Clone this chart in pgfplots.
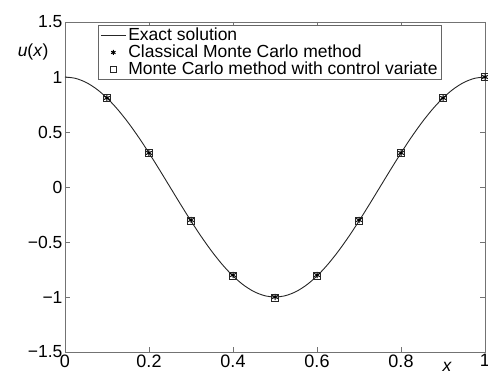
\documentclass[border=0pt]{standalone}
\usepackage{pgfplots}
\pgfplotsset{compat=1.18}
\usepackage{fontspec}
\setmainfont{Liberation Sans}
\pgfplotsset{
  leglineimg/.style={legend image code/.code={\draw[##1] (0pt,0pt) -- (25pt,0pt);}},
  legmarkimg/.style={legend image code/.code={\draw[##1, mark size=#1] plot coordinates {(12.5pt,0pt)};}},
}
\begin{document}
\fontsize{17.5}{19}\selectfont
\begin{tikzpicture}
\path[use as bounding box] (-65pt,-20pt) rectangle (423pt,352pt);
\begin{axis}[
  at={(0,0)}, anchor=south west,
  scale only axis,
  width=420pt, height=330pt,
  xmin=0, xmax=1, ymin=-1.5, ymax=1.5,
  xtick={0,0.2,0.4,0.6,0.8,1},
  xticklabels={0,0.2,0.4,0.6,0.8,1},
  ytick={-1.5,-1,-0.5,0,0.5,1,1.5},
  yticklabels={−1.5,−1,−0.5,0,0.5,1,1.5},
  tick align=inside,
  major tick length=5pt,
  axis line style={black!55, line width=0.8pt},
  every tick/.style={black!55, line width=0.7pt},
  xticklabel style={yshift=3.5pt, font=\fontsize{18}{19}\selectfont},
  yticklabel style={xshift=3.5pt, font=\fontsize{17.5}{19}\selectfont},
  xlabel={\textit{x}},
  xlabel style={at={(axis description cs:0.91,0)}, anchor=north, yshift=-4pt, font=\fontsize{17.5}{19}\selectfont},
  ylabel={\textit{u}(\textit{x})},
  ylabel style={at={(axis description cs:-0.076,0.909)}, anchor=center, rotate=-90, font=\fontsize{17.5}{19}\selectfont},
  legend style={at={(33pt,327pt)}, anchor=north west,
    draw=black!60, line width=0.8pt, font=\fontsize{17.5}{18}\selectfont,
    inner xsep=2pt, inner ysep=0.5pt, row sep=-2.4pt, cells={anchor=west},
    /tikz/every even column/.append style={column sep=2pt}},
  legend cell align=left,
]
\addplot[black!85, line width=0.9pt, smooth, leglineimg] coordinates {
(0,1) (0.025,0.98769) (0.05,0.95106) (0.075,0.89101) (0.1,0.80902)
(0.125,0.70711) (0.15,0.58779) (0.175,0.45399) (0.2,0.30902) (0.225,0.15643)
(0.25,0) (0.275,-0.15643) (0.3,-0.30902) (0.325,-0.45399) (0.35,-0.58779)
(0.375,-0.70711) (0.4,-0.80902) (0.425,-0.89101) (0.45,-0.95106) (0.475,-0.98769)
(0.5,-1) (0.525,-0.98769) (0.55,-0.95106) (0.575,-0.89101) (0.6,-0.80902)
(0.625,-0.70711) (0.65,-0.58779) (0.675,-0.45399) (0.7,-0.30902) (0.725,-0.15643)
(0.75,0) (0.775,0.15643) (0.8,0.30902) (0.825,0.45399) (0.85,0.58779)
(0.875,0.70711) (0.9,0.80902) (0.925,0.89101) (0.95,0.95106) (0.975,0.98769)
(1,1)};
\addlegendentry{Exact solution}
\addplot[only marks, mark=asterisk, mark size=3.2pt, black, mark options={line width=1pt},
  legmarkimg=2.5pt] coordinates {
(0.1,0.81) (0.2,0.31) (0.3,-0.30) (0.4,-0.80) (0.5,-1.00)
(0.6,-0.80) (0.7,-0.30) (0.8,0.31) (0.9,0.81) (1.0,1.00)};
\addlegendentry{Classical Monte Carlo method}
\addplot[only marks, mark=square, mark size=3.5pt, black!85, mark options={line width=1pt},
  legmarkimg=2.8pt] coordinates {
(0.1,0.81) (0.2,0.31) (0.3,-0.31) (0.4,-0.81) (0.5,-1.01)
(0.6,-0.81) (0.7,-0.31) (0.8,0.31) (0.9,0.81) (1.0,1.00)};
\addlegendentry{Monte Carlo method with control variate}
\end{axis}
\end{tikzpicture}
\end{document}
